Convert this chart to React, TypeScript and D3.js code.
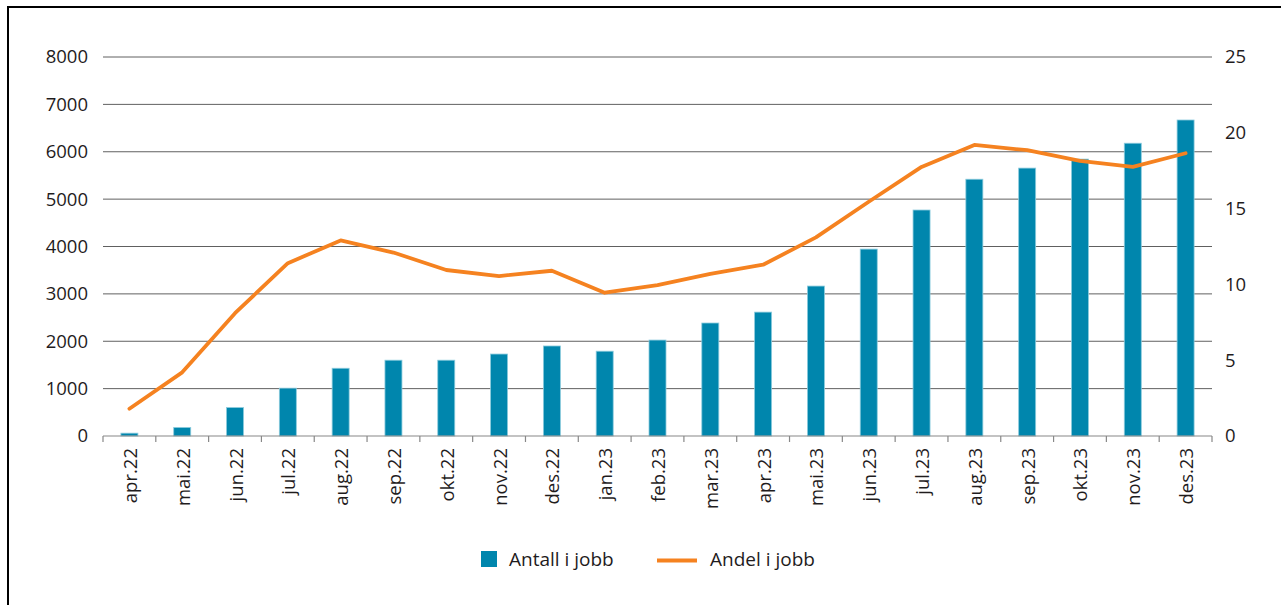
import React from "react";
import * as d3 from "d3";

const categories = ["apr.22","mai.22","jun.22","jul.22","aug.22","sep.22","okt.22","nov.22","des.22","jan.23","feb.23","mar.23","apr.23","mai.23","jun.23","jul.23","aug.23","sep.23","okt.23","nov.23","des.23"];
const antallIJobb = [60,180,600,1010,1430,1600,1600,1730,1900,1790,2025,2385,2615,3165,3945,4770,5420,5655,5845,6180,6670];
const andelIJobb = [1.8,4.2,8.1,11.4,12.9,12.1,10.95,10.55,10.9,9.45,9.95,10.7,11.3,13.1,15.45,17.75,19.2,18.85,18.15,17.75,18.65];
const leftTicks = [0,1000,2000,3000,4000,5000,6000,7000,8000];
const rightTicks = [0,5,10,15,20,25];
const legendLabels = ["Antall i jobb", "Andel i jobb"];

const W = 1281, H = 605;
const FONT = "'Open Sans', sans-serif";
const BAR = "#0086ad";
const LINE = "#f58220";
const TXT = "#1f1c1d";

export default function App() {
  const x = d3.scaleBand<string>().domain(categories).range([103, 1212]).paddingInner(0).paddingOuter(0);
  const yL = d3.scaleLinear().domain([0, 8000]).range([436, 57]);
  const yR = d3.scaleLinear().domain([0, 25]).range([436, 57]);
  const bw = 17;
  const cx = (c: string) => (x(c) as number) + x.bandwidth() / 2;
  const line = d3.line<number>().x((_, i) => cx(categories[i])).y((d) => yR(d));
  const boundaries = d3.range(categories.length + 1).map((i) => 103 + i * x.bandwidth());

  return (
    <svg width={W} height={H} style={{ position: "absolute", left: 0, top: 0, background: "#fff" }} fontFamily={FONT}>
      <rect x={0} y={0} width={W} height={H} fill="#fff" />
      <line x1={7} x2={W} y1={7} y2={7} stroke="#000" strokeWidth={2} />
      <line x1={8} x2={8} y1={6} y2={H} stroke="#000" strokeWidth={2} />
      {leftTicks.slice(1).map((t) => (
        <line key={"g" + t} x1={103} x2={1212} y1={yL(t)} y2={yL(t)} stroke="#606060" strokeWidth={1} />
      ))}
      {leftTicks.map((t) => (
        <text key={"l" + t} x={88} y={yL(t)} dy="0.35em" textAnchor="end" fontSize={18.5} fill={TXT}>{t}</text>
      ))}
      {rightTicks.map((t) => (
        <text key={"r" + t} x={1225} y={yR(t)} dy="0.35em" textAnchor="start" fontSize={18.5} fill={TXT}>{t}</text>
      ))}
      {categories.map((c, i) => (
        <rect key={"b" + c} x={cx(c) - bw / 2} y={yL(antallIJobb[i])} width={bw} height={436 - yL(antallIJobb[i])} fill={BAR} stroke="#8ccbdd" strokeWidth={0.8} />
      ))}
      <line x1={103} x2={1212} y1={436} y2={436} stroke="#888" strokeWidth={1.2} />
      {boundaries.map((b, i) => (
        <line key={"t" + i} x1={b} x2={b} y1={436} y2={442} stroke="#888" strokeWidth={1.2} />
      ))}
      <path d={line(andelIJobb) || ""} fill="none" stroke={LINE} strokeWidth={3.8} strokeLinejoin="round" strokeLinecap="round" />
      {categories.map((c) => (
        <text key={"x" + c} transform={`translate(${cx(c) + 1},448) rotate(-90)`} dy="0.35em" textAnchor="end" fontSize={18.5} fill={TXT}>{c}</text>
      ))}
      <rect x={481} y={551} width={16} height={16} fill={BAR} />
      <text x={509} y={566} fontSize={19} fill={TXT}>{legendLabels[0]}</text>
      <line x1={657} x2={697} y1={560.5} y2={560.5} stroke={LINE} strokeWidth={3.8} />
      <text x={710} y={566} fontSize={19} fill={TXT}>{legendLabels[1]}</text>
    </svg>
  );
}
